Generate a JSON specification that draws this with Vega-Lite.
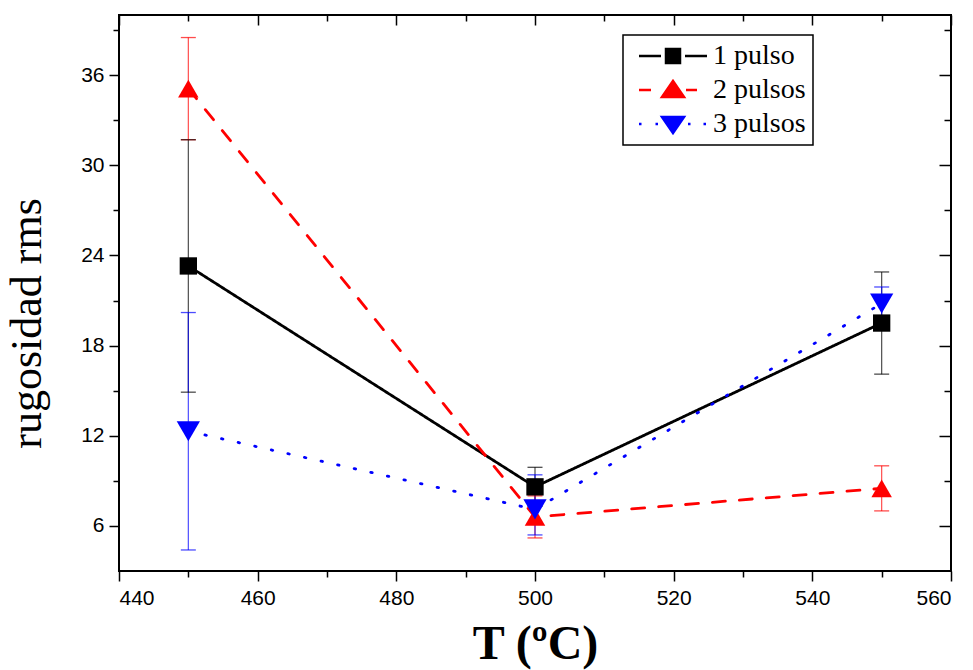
{
  "$schema": "https://vega.github.io/schema/vega-lite/v6.json",
  "width": 832,
  "height": 556,
  "autosize": "none",
  "padding": {"left": 119, "top": 15, "right": 22, "bottom": 99},
  "background": "white",
  "config": {
    "view": {"stroke": "black", "strokeWidth": 2},
    "axis": {"grid": false, "domain": false, "tickColor": "black", "tickWidth": 1.5, "labelColor": "black", "labelFont": "Liberation Sans", "labelFontSize": 21, "titleColor": "black"}
  },
  "data": {"values": [
    {"serie": "1 pulso", "T": 450, "y": 23.3, "lo": 14.9, "hi": 31.7},
    {"serie": "1 pulso", "T": 500, "y": 8.6, "lo": 7.3, "hi": 9.9},
    {"serie": "1 pulso", "T": 550, "y": 19.5, "lo": 16.1, "hi": 22.9},
    {"serie": "2 pulsos", "T": 450, "y": 35.1, "lo": 31.7, "hi": 38.5},
    {"serie": "2 pulsos", "T": 500, "y": 6.6, "lo": 5.2, "hi": 8.0},
    {"serie": "2 pulsos", "T": 550, "y": 8.5, "lo": 7.0, "hi": 10.0},
    {"serie": "3 pulsos", "T": 450, "y": 12.3, "lo": 4.4, "hi": 20.2},
    {"serie": "3 pulsos", "T": 500, "y": 7.1, "lo": 5.4, "hi": 9.4},
    {"serie": "3 pulsos", "T": 550, "y": 20.8, "lo": 19.7, "hi": 21.9}
  ]},
  "resolve": {
    "scale": {"color": "independent", "shape": "independent", "stroke": "independent"},
    "axis": {"x": "independent", "y": "independent"}
  },
  "layer": [
    {
      "mark": {"type": "rule", "strokeWidth": 1.2, "opacity": 0.7},
      "encoding": {
        "x": {"field": "T", "type": "quantitative",
          "scale": {"domain": [440, 560], "nice": false, "zero": false},
          "axis": {"orient": "bottom", "values": [440, 450, 460, 470, 480, 490, 500, 510, 520, 530, 540, 550, 560],
            "labelExpr": "datum.value % 20 === 0 ? datum.label : ''", "labelOverlap": false,
            "tickSize": {"condition": {"test": "datum.value % 20 === 0", "value": 10}, "value": 6},
            "labelPadding": 6, "title": "T (ºC)", "titleFont": "Liberation Serif", "titleFontSize": 48,
            "titleFontWeight": "bold", "titleBaseline": "alphabetic", "titleY": 87}},
        "y": {"field": "lo", "type": "quantitative",
          "scale": {"domain": [3, 40], "nice": false, "zero": false},
          "axis": {"orient": "left", "values": [6, 9, 12, 15, 18, 21, 24, 27, 30, 33, 36, 39],
            "labelExpr": "datum.value % 6 === 0 ? datum.label : ''", "labelOverlap": false,
            "tickSize": {"condition": {"test": "datum.value % 6 === 0", "value": 10}, "value": 6},
            "labelPadding": 5, "title": "rugosidad rms", "titleFont": "Liberation Serif", "titleFontSize": 44,
            "titleFontWeight": "normal", "titleBaseline": "alphabetic", "titleAngle": -90, "titleX": -79, "titleY": 308}},
        "y2": {"field": "hi"},
        "color": {"field": "serie", "type": "nominal",
          "scale": {"domain": ["1 pulso", "2 pulsos", "3 pulsos"], "range": ["black", "red", "blue"]}, "legend": null}
      }
    },
    {
      "mark": {"type": "tick", "orient": "horizontal", "size": 15, "thickness": 1.3, "opacity": 0.7},
      "encoding": {
        "x": {"field": "T", "type": "quantitative", "scale": {"domain": [440, 560], "nice": false, "zero": false}, "axis": null},
        "y": {"field": "lo", "type": "quantitative", "scale": {"domain": [3, 40], "nice": false, "zero": false}, "axis": null},
        "color": {"field": "serie", "type": "nominal",
          "scale": {"domain": ["1 pulso", "2 pulsos", "3 pulsos"], "range": ["black", "red", "blue"]}, "legend": null}
      }
    },
    {
      "mark": {"type": "tick", "orient": "horizontal", "size": 15, "thickness": 1.3, "opacity": 0.7},
      "encoding": {
        "x": {"field": "T", "type": "quantitative", "scale": {"domain": [440, 560], "nice": false, "zero": false}, "axis": null},
        "y": {"field": "hi", "type": "quantitative", "scale": {"domain": [3, 40], "nice": false, "zero": false}, "axis": null},
        "color": {"field": "serie", "type": "nominal",
          "scale": {"domain": ["1 pulso", "2 pulsos", "3 pulsos"], "range": ["black", "red", "blue"]}, "legend": null}
      }
    },
    {
      "mark": {"type": "line", "strokeWidth": 2.8, "strokeCap": "round"},
      "encoding": {
        "x": {"field": "T", "type": "quantitative", "scale": {"domain": [440, 560], "nice": false, "zero": false}, "axis": null},
        "y": {"field": "y", "type": "quantitative", "scale": {"domain": [3, 40], "nice": false, "zero": false}, "axis": null},
        "color": {"field": "serie", "type": "nominal",
          "scale": {"domain": ["1 pulso", "2 pulsos", "3 pulsos"], "range": ["black", "red", "blue"]}, "legend": null},
        "strokeDash": {"field": "serie", "type": "nominal",
          "scale": {"domain": ["1 pulso", "2 pulsos", "3 pulsos"], "range": [[1, 0], [13, 14], [1.5, 15.5]]}, "legend": null}
      }
    },
    {
      "mark": {"type": "point", "filled": true, "opacity": 1},
      "encoding": {
        "x": {"field": "T", "type": "quantitative", "scale": {"domain": [440, 560], "nice": false, "zero": false}, "axis": null},
        "y": {"field": "y", "type": "quantitative", "scale": {"domain": [3, 40], "nice": false, "zero": false}, "axis": null},
        "color": {"field": "serie", "type": "nominal",
          "scale": {"domain": ["1 pulso", "2 pulsos", "3 pulsos"], "range": ["black", "red", "blue"]}, "legend": null},
        "shape": {"field": "serie", "type": "nominal",
          "scale": {"domain": ["1 pulso", "2 pulsos", "3 pulsos"], "range": ["square", "triangle-up", "triangle-down"]}, "legend": null},
        "size": {"field": "serie", "type": "nominal",
          "scale": {"domain": ["1 pulso", "2 pulsos", "3 pulsos"], "range": [300, 540, 540]}, "legend": null}
      }
    },
    {
      "mark": {"type": "point", "filled": true, "opacity": 0},
      "encoding": {
        "x": {"field": "T", "type": "quantitative", "scale": {"domain": [440, 560], "nice": false, "zero": false},
          "axis": {"orient": "top", "values": [440, 450, 460, 470, 480, 490, 500, 510, 520, 530, 540, 550, 560],
            "labels": false, "title": null,
            "tickSize": {"condition": {"test": "datum.value % 20 === 0", "value": -10}, "value": -6}}},
        "y": {"field": "y", "type": "quantitative", "scale": {"domain": [3, 40], "nice": false, "zero": false},
          "axis": {"orient": "right", "values": [6, 9, 12, 15, 18, 21, 24, 27, 30, 33, 36, 39],
            "labels": false, "title": null,
            "tickSize": {"condition": {"test": "datum.value % 6 === 0", "value": -12}, "value": -7}}},
        "color": {"field": "serie", "type": "nominal",
          "scale": {"domain": ["1 pulso", "2 pulsos", "3 pulsos"], "range": ["black", "red", "blue"]},
          "legend": {"orient": "none", "legendX": 504, "legendY": 20, "title": null,
            "symbolSize": 400, "symbolOpacity": 1, "symbolStrokeWidth": 2.5, "symbolOffset": 29,
            "labelOffset": 26, "labelFont": "Liberation Serif", "labelFontSize": 28, "labelColor": "black",
            "labelLimit": 300, "padding": 7, "strokeColor": "black", "fillColor": "white", "rowPadding": 6,
            "encode": {"symbols": {"update": {
              "fill": {"signal": "datum.value === '1 pulso' ? 'black' : datum.value === '2 pulsos' ? 'red' : 'blue'"},
              "fillOpacity": {"value": 1}, "opacity": {"value": 1}}},
              "legend": {"update": {"strokeWidth": {"value": 1.5}}}}}},
        "stroke": {"field": "serie", "type": "nominal",
          "scale": {"domain": ["1 pulso", "2 pulsos", "3 pulsos"], "range": ["black", "red", "blue"]}},
        "shape": {"field": "serie", "type": "nominal",
          "scale": {"domain": ["1 pulso", "2 pulsos", "3 pulsos"],
            "range": [
              "M-3.4,0H-1.2M1.2,0H3.4M-0.7,-0.7H0.7V0.7H-0.7Z",
              "M-3.4,0H-2.2M1.3,0H2.4M0,-0.9L1.1,0.7H-1.1Z",
              "M-3.4,0H-3.15M-1.75,0H-1.5M1.5,0H1.75M3.05,0H3.3M-1.1,-0.7H1.1L0,0.9Z"
            ]}}
      }
    }
  ]
}
